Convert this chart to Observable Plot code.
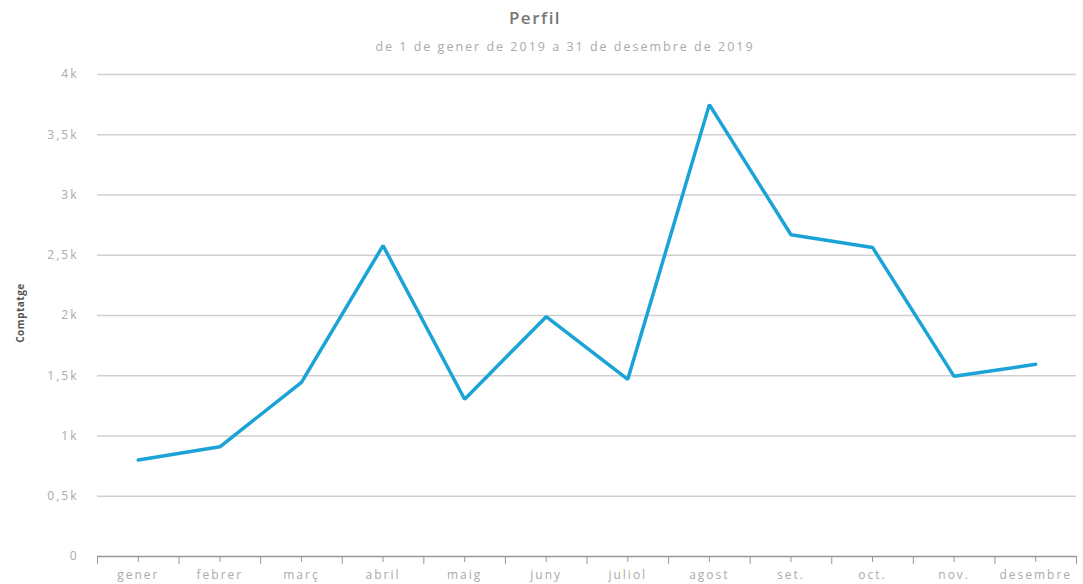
<!DOCTYPE html>
<html>
<head>
<meta charset="utf-8">
<script src="https://cdn.jsdelivr.net/npm/d3@7"></script>
<script src="https://cdn.jsdelivr.net/npm/@observablehq/plot@0.6"></script>
<style>
  body { margin: 0; background: #fff; font-family: "Open Sans", sans-serif; }
  #wrap { position: relative; width: 1083px; height: 584px; }
  #title { position: absolute; top: 6px; left: 0; width: 1070px; text-align: center; font-size: 17px; letter-spacing: 1.5px; font-weight: 600; color: #777; z-index: 2; }
  #subtitle { position: absolute; top: 38px; left: 50px; width: 1030px; text-align: center; font-size: 12.5px; letter-spacing: 2px; color: #aaa; z-index: 2; }
  #ylab { position: absolute; left: 20px; top: 313px; transform: translate(-50%, -50%) rotate(-90deg); font-size: 10px; letter-spacing: 0.5px; font-weight: 700; color: #555; white-space: nowrap; z-index: 2; }
  #chart { position: absolute; top: 60px; left: 0; z-index: 1; }
</style>
</head>
<body>
<div id="wrap">
  <div id="title">Perfil</div>
  <div id="subtitle">de 1 de gener de 2019 a 31 de desembre de 2019</div>
  <div id="ylab">Comptatge</div>
  <div id="chart"></div>
</div>
<script>
const months = ["gener", "febrer", "març", "abril", "maig", "juny", "juliol", "agost", "set.", "oct.", "nov.", "desembre"];
const counts = [800, 910, 1445, 2580, 1305, 1990, 1470, 3750, 2670, 2565, 1495, 1595];
const yTicks = [0, 500, 1000, 1500, 2000, 2500, 3000, 3500, 4000];

const data = months.map((m, i) => ({ pos: i + 0.5, month: m, value: counts[i] }));
const centers = months.map((m, i) => i + 0.5);
const edges = d3.range(0, months.length + 1);

const chart = Plot.plot({
  width: 1083,
  height: 524,
  marginTop: 14,
  marginBottom: 28,
  marginLeft: 97,
  marginRight: 7,
  style: { fontFamily: "Open Sans, sans-serif", fontSize: "12px", letterSpacing: "2px", color: "#999", background: "transparent" },
  x: { type: "linear", domain: [0, months.length] },
  y: { domain: [0, 4000] },
  marks: [
    Plot.gridY(yTicks.filter(d => d > 0), { stroke: "#cfcfcf", strokeOpacity: 1, strokeWidth: 1.5 }),
    Plot.axisY(yTicks, {
      tickSize: 0,
      tickPadding: 19,
      fill: "#aaa",
      label: null,
      tickFormat: d => d === 0 ? "0" : String(d / 1000).replace(".", ",") + "k"
    }),
    Plot.axisX(edges, { tickSize: 8, stroke: "#999", label: null, tickFormat: () => "" }),
    Plot.axisX(centers, {
      tickSize: 6,
      tickPadding: 8,
      stroke: "#999",
      fill: "#aaa",
      label: null,
      tickFormat: d => months[Math.floor(d)]
    }),
    Plot.ruleY([0], { stroke: "#999", strokeWidth: 1.5 }),
    Plot.lineY(data, { x: "pos", y: "value", stroke: "#1aa3d6", strokeWidth: 3.5, strokeLinejoin: "miter" })
  ]
});
document.getElementById("chart").appendChild(chart);
</script>
</body>
</html>
